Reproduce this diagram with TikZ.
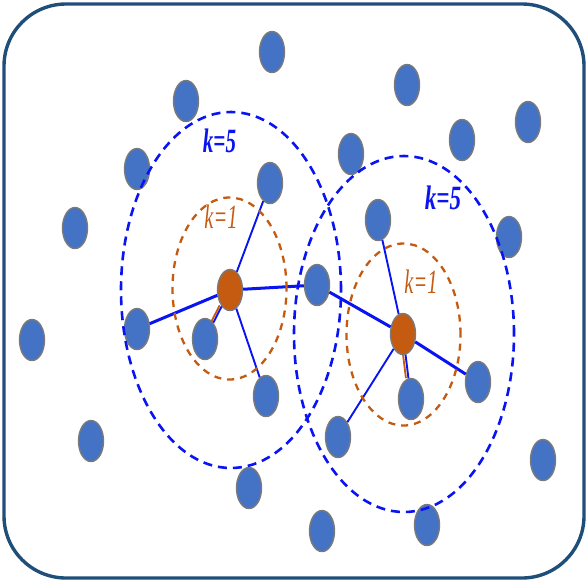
\documentclass[tikz,border=0pt]{standalone}
\usepackage{fontspec}
\usepackage{graphicx}
\usepackage{xcolor}
\usepackage{tikz}
\newfontfamily\labfont{Liberation Serif}
\definecolor{sensblue}{HTML}{4472C4}
\definecolor{sensgray}{HTML}{7A7A7A}
\definecolor{headorg}{HTML}{C55A11}
\definecolor{linkblue}{HTML}{0A14F0}
\definecolor{framenavy}{HTML}{1F4E79}
\tikzset{
  sens/.style={ellipse,draw=sensgray,line width=1.4pt,fill=sensblue,minimum width=25pt,minimum height=41pt,inner sep=0pt},
  head/.style={sens,fill=headorg},
  lnk/.style={linkblue,line width=3pt},
  lnkthin/.style={linkblue,line width=1.9pt},
  lnkorg/.style={headorg,line width=1.8pt},
  rng5/.style={linkblue,line width=2.6pt,dash pattern=on 9pt off 6pt},
  rng1/.style={headorg,line width=2.3pt,dash pattern=on 7pt off 6pt},
  klab/.style={inner sep=0pt,font=\labfont\itshape\fontsize{34}{36}\selectfont},
  frame/.style={framenavy,line width=3.4pt,rounded corners=62pt},
}
\usetikzlibrary{shapes.geometric}

\begin{document}
\begin{tikzpicture}[x=1pt,y=-1pt]
        \useasboundingbox (0,0) rectangle (588,582);
        \draw[frame] (4,4) rectangle (584,578);
        \foreach \x/\y [count=\i] in {272/52,407/85,186/101,528/122,462/140,351/154,
            137/169,270/183,75/228,378/220,509/237,317/285,137/329,32/340,205/339,
            266/396,478/382,411/399,91/441,338/437,249/488,543/460,322/531,427/525}
          \node[sens] (b\i) at (\x,\y) {};
        \node[head] (o1) at (230,290) {};
        \node[head] (o2) at (403,334) {};
        \draw[lnkorg,transform canvas={shift={(-2pt,1pt)}}] (o1) -- (b15);
        \draw[lnkorg,transform canvas={shift={(-2.5pt,0pt)}}] (o2) -- (b18);
        \draw[lnk] (o1) -- (b13); \draw[lnk] (o1) -- (b12);
        \draw[lnkthin] (o1) -- (b8); \draw[lnkthin] (o1) -- (b15); \draw[lnkthin] (o1) -- (b16);
        \draw[lnk] (o2) -- (b12); \draw[lnk] (o2) -- (b17);
        \draw[lnkthin] (o2) -- (b10); \draw[lnkthin] (o2) -- (b18); \draw[lnkthin] (o2) -- (b20);
        \draw[rng5] (231,290) ellipse [x radius=110pt,y radius=178pt];
        \draw[rng5] (404,334) ellipse [x radius=110pt,y radius=178pt];
        \draw[rng1] (229.5,288.5) ellipse [x radius=57pt,y radius=91pt];
        \draw[rng1] (403.5,334.5) ellipse [x radius=57pt,y radius=91pt];
        \node[klab,linkblue] (k5a) at (219.5,141) {\scalebox{0.62}[1]{\bfseries k=5}};
        \node[klab,linkblue] (k5b) at (443,198) {\scalebox{0.68}[1]{\bfseries k=5}};
        \node[klab,headorg] (k1a) at (221,217) {\scalebox{0.6}[1]{k=1}};
        \node[klab,headorg] (k1b) at (421,282) {\scalebox{0.6}[1]{k=1}};
\end{tikzpicture}
\end{document}
